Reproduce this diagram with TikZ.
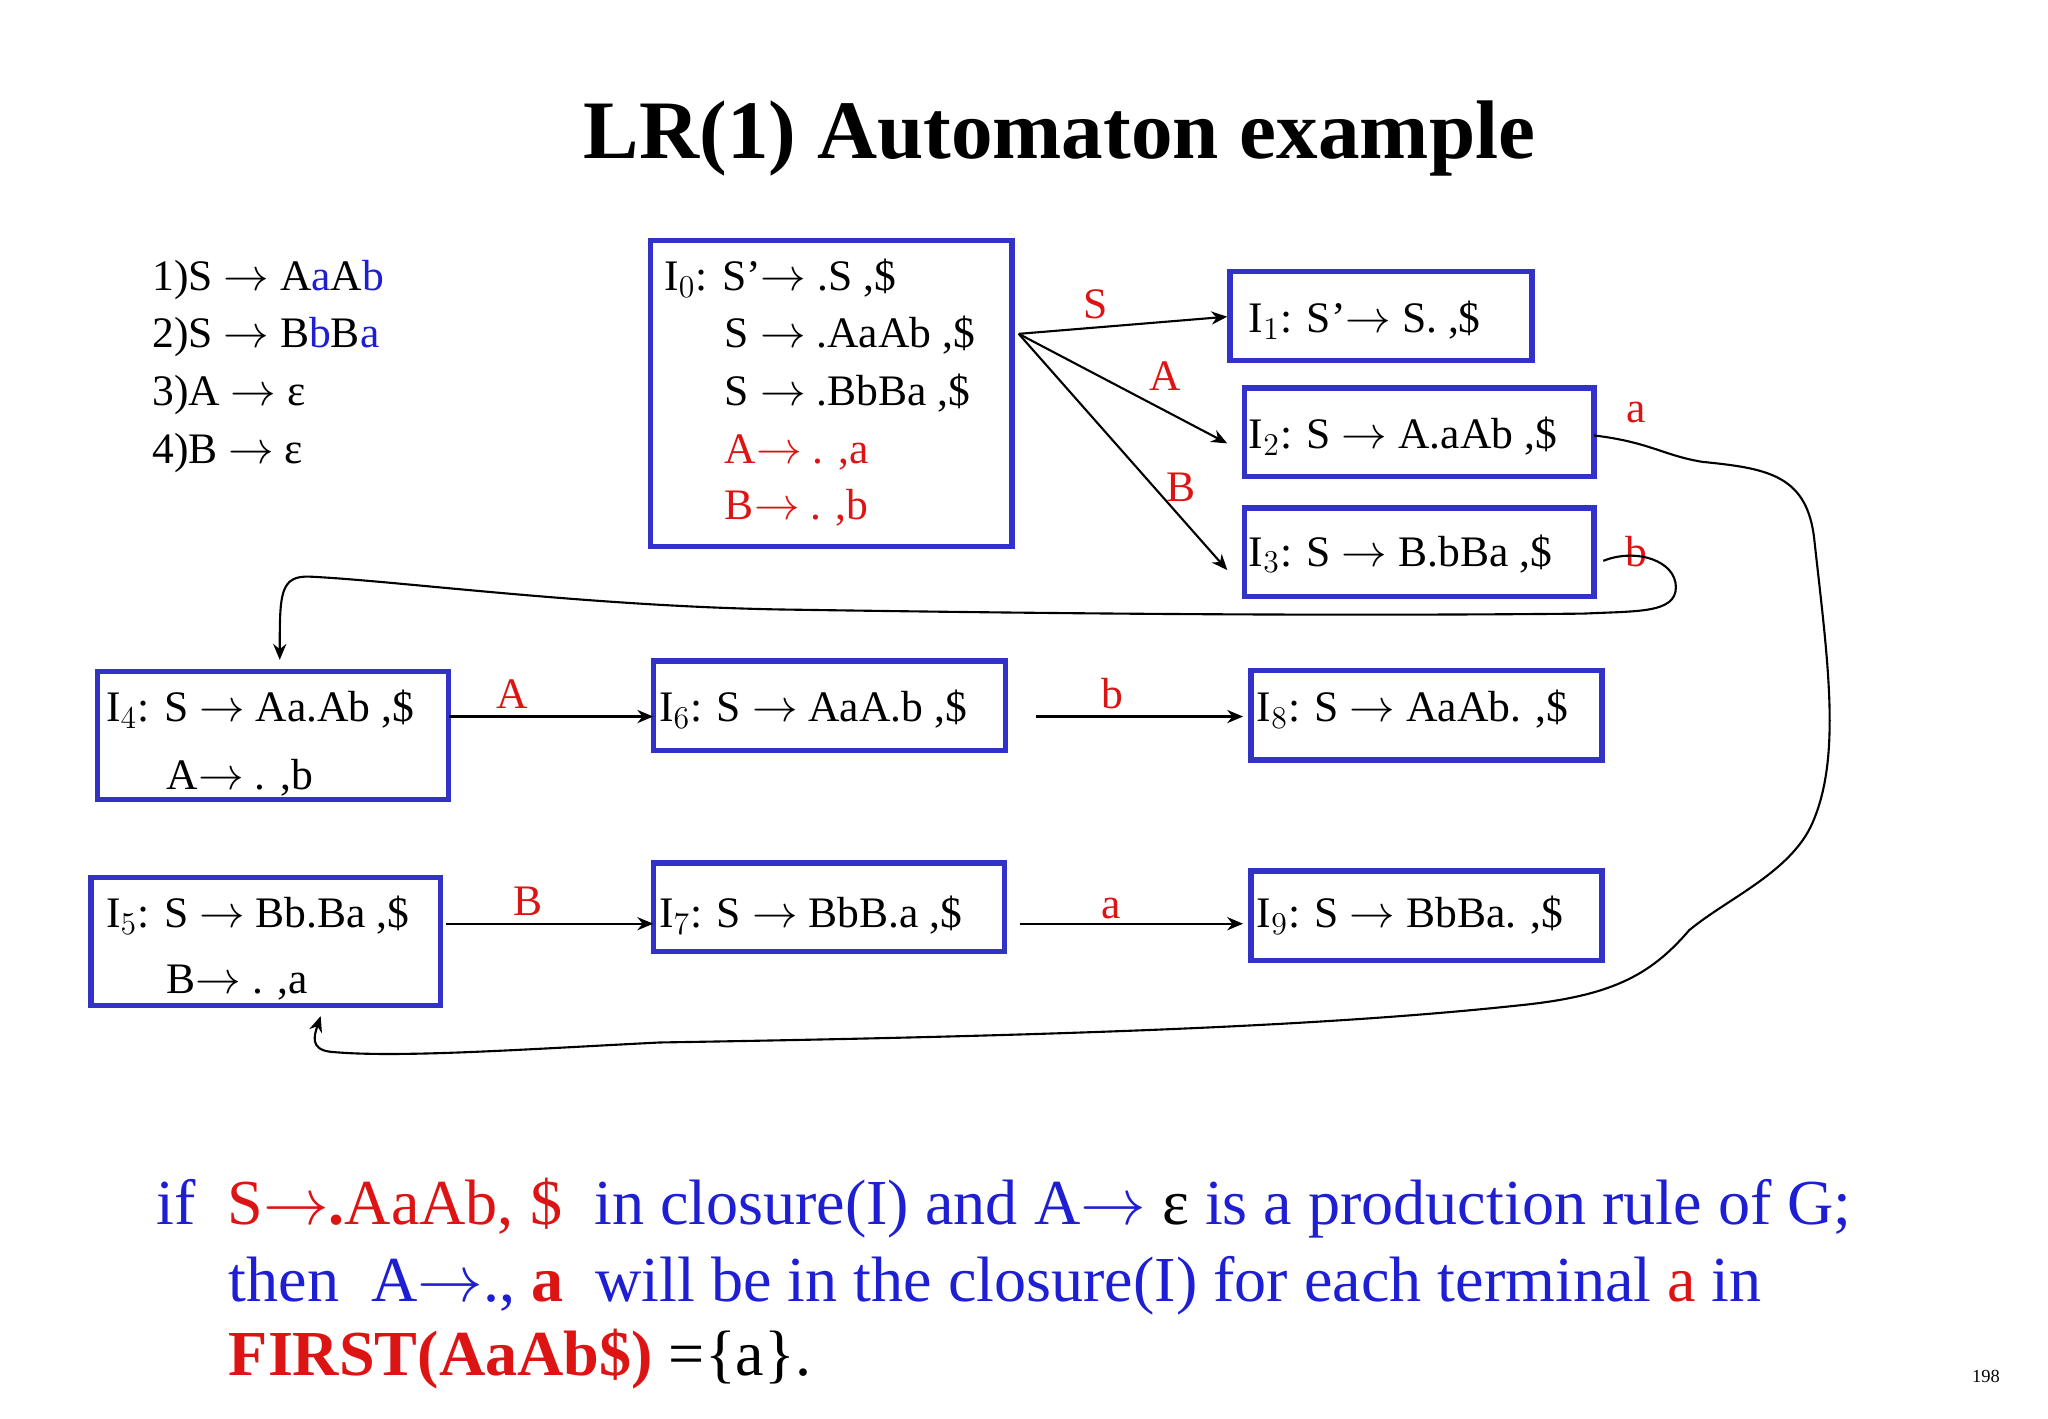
\documentclass[tikz,border=0pt]{standalone}
\usepackage{fontspec}
\setmainfont{Liberation Serif}
\usetikzlibrary{arrows.meta}
\definecolor{bb}{RGB}{50,50,200}
\definecolor{rr}{RGB}{220,20,20}
\definecolor{tb}{RGB}{30,30,210}
\begin{document}
\begin{tikzpicture}[x=0.5pt,y=-0.5pt,
 box/.style={draw=bb,line width=2pt},
 t/.style={anchor=base west,inner sep=0pt,font=\fontsize{16.5}{18}\selectfont},
 lab/.style={anchor=base,inner sep=0pt,text=rr,font=\fontsize{16.5}{18}\selectfont},
 arr/.style={-{Stealth[length=6pt,width=5pt]},line width=0.8pt},
 b/.style={anchor=base west,inner sep=0pt,font=\fontsize{24.3}{26}\selectfont}]
\useasboundingbox (0,0) rectangle (1552,1075);
\node[anchor=base,font=\bfseries\fontsize{31.5}{36}\selectfont] (title) at (803,120) {LR(1) Automaton example};
% grammar
\node[t] (g1) at (115,220) {1)S $\to$ A\textcolor{tb}{a}A\textcolor{tb}{b}};
\node[t] (g2) at (115,263) {2)S $\to$ B\textcolor{tb}{b}B\textcolor{tb}{a}};
\node[t] (g3) at (115,307) {3)A $\to$ ε};
\node[t] (g4) at (115,351) {4)B $\to$ ε};
% boxes
\draw[box] (493,182) rectangle (767,414);
\node[t] (i0a) at (503,220) {I$_0$: S’$\to$ .S ,\$};
\node[t] (i0b) at (549,263) {S $\to$ .AaAb ,\$};
\node[t] (i0c) at (549,307) {S $\to$ .BbBa ,\$};
\node[t,text=rr] (i0d) at (549,351) {A$\to$ . ,a};
\node[t,text=rr] (i0e) at (549,394) {B$\to$ . ,b};
\draw[box] (932,206) rectangle (1161,273);
\node[t] (i1) at (946,252) {I$_1$: S’$\to$ S. ,\$};
\draw[box] (943,294) rectangle (1208,361);
\node[t] (i2) at (946,340) {I$_2$: S $\to$ A.aAb ,\$};
\draw[box] (943,385) rectangle (1208,452);
\node[t] (i3) at (946,429) {I$_3$: S $\to$ B.bBa ,\$};
\draw[box] (74,509) rectangle (340,606);
\node[t] (i4) at (80,547) {I$_4$: S $\to$ Aa.Ab ,\$};
\node[t] (i4b) at (126,598) {A$\to$ . ,b};
\draw[box] (495,501) rectangle (762,569);
\node[t] (i6) at (499,547) {I$_6$: S $\to$ AaA.b ,\$};
\draw[box] (948,508) rectangle (1214,576);
\node[t] (i8) at (952,547) {I$_8$: S $\to$ AaAb. ,\$};
\draw[box] (69,665) rectangle (334,762);
\node[t] (i5) at (80,703) {I$_5$: S $\to$ Bb.Ba ,\$};
\node[t] (i5b) at (126,753) {B$\to$ . ,a};
\draw[box] (495,654) rectangle (761,721);
\node[t] (i7) at (499,703) {I$_7$: S $\to$ BbB.a ,\$};
\draw[box] (948,660) rectangle (1214,728);
\node[t] (i9) at (952,703) {I$_9$: S $\to$ BbBa. ,\$};
% arrows
\coordinate (o) at (772,253);
\draw[arr] (o) -- (930,240);
\draw[arr] (o) -- (930,336);
\draw[arr] (o) -- (930,432);
\node[lab] (ls) at (830,241) {S};
\node[lab] (la) at (883,296) {A};
\node[lab] (lb) at (895,380) {B};
\draw[arr] (340,543) -- (495,543); \node[lab] (l1) at (388,537) {A};
\draw[arr] (785,543) -- (942,543); \node[lab] (l2) at (843,537) {b};
\draw[arr] (338,700) -- (495,700); \node[lab] (l3) at (400,694) {B};
\draw[arr] (773,700) -- (942,700); \node[lab] (l4) at (842,696) {a};
\node[lab] (l5) at (1240,320) {a};
\node[lab] (l6) at (1240,429) {b};
\draw[arr] (1208,330) .. controls (1250,335) and (1260,345) .. (1290,350)
 .. controls (1340,355) and (1370,360) .. (1375,410)
 .. controls (1385,500) and (1395,570) .. (1375,620)
 .. controls (1360,660) and (1310,680) .. (1280,705)
 .. controls (1250,740) and (1220,755) .. (1150,762)
 .. controls (1000,778) and (800,785) .. (500,790)
 .. controls (400,795) and (300,802) .. (250,797)
 .. controls (235,795) and (238,785) .. (243,770);
\draw[arr] (1215,425) .. controls (1240,415) and (1270,425) .. (1270,445)
 .. controls (1270,465) and (1240,463) .. (1200,465)
 .. controls (1000,467) and (800,465) .. (600,462)
 .. controls (450,460) and (300,440) .. (235,437)
 .. controls (212,436) and (212,450) .. (212,500);
% bottom text
\node[b] (bt1) at (118,928) {\textcolor{tb}{if}\enspace\textcolor{rr}{S$\to$\textbf{.}AaAb, \$}\enspace\textcolor{tb}{in closure(I) and A$\to$} ε \textcolor{tb}{is a production rule of G;}};
\node[b] (bt2) at (173,986) {\textcolor{tb}{then\enspace A$\to$., }\textcolor{rr}{\textbf{a}}\enspace\textcolor{tb}{will be in the closure(I) for each terminal }\textcolor{rr}{a}\textcolor{tb}{\ in}};
\node[b] (bt3) at (173,1042) {\textcolor{rr}{\textbf{FIRST(AaAb\$)}} =\{a\}.};
\node[anchor=base,inner sep=0pt,font=\fontsize{7}{8}\selectfont] (pg) at (1505,1048) {198};
\end{tikzpicture}
\end{document}
